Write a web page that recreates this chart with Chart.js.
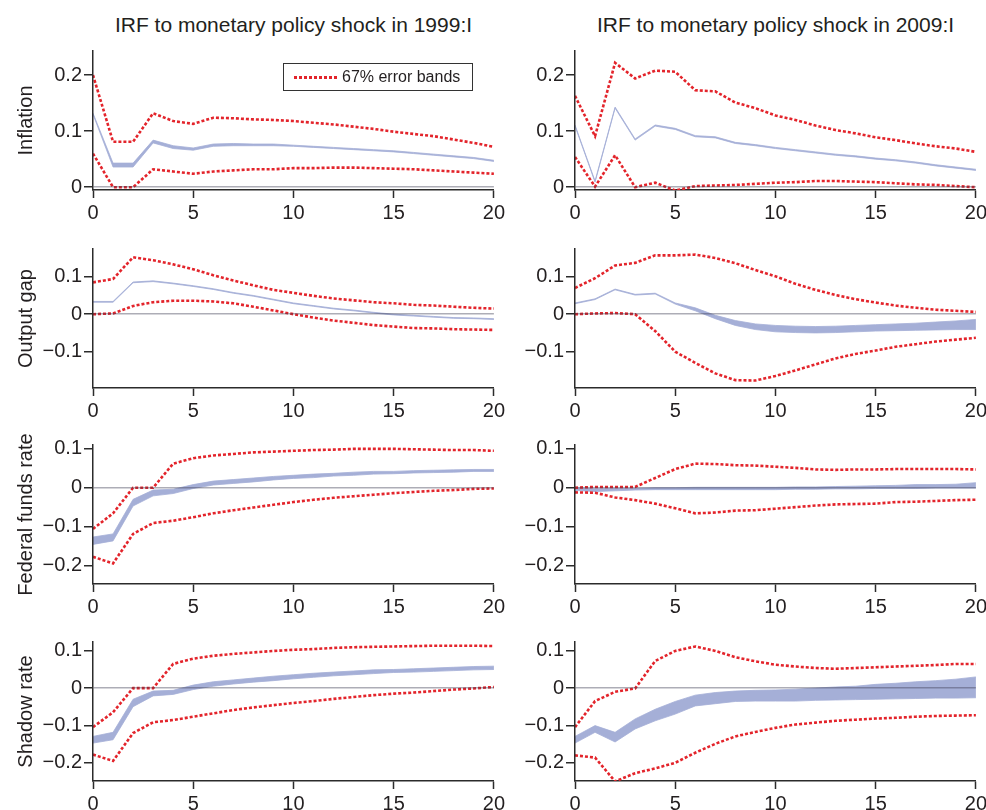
<!DOCTYPE html>
<html>
<head>
<meta charset="utf-8">
<script src="https://cdn.jsdelivr.net/npm/chart.js@4.4.1/dist/chart.umd.min.js"></script>
<style>
  body { margin: 0; width: 986px; height: 810px; overflow: hidden; background: #fff;
         font-family: "Liberation Sans", Arial, sans-serif; color: #231f20; }
  canvas { position: absolute; }
  .coltitle { position: absolute; top: 12px; width: 401px; text-align: center; font-size: 21px; line-height: 26px; }
  .legend { position: absolute; left: 283px; top: 63px; width: 188px; height: 26px; border: 1.5px solid #333;
            font-size: 16px; line-height: 26px; }
  .legend .dots { position: absolute; left: 10px; top: 12px; width: 43px; height: 2.6px;
                  background: repeating-linear-gradient(90deg, #e3242b 0 3px, transparent 3px 5px); }
  .legend .txt { position: absolute; left: 58px; top: 0; }
</style>
</head>
<body>
<div class="coltitle" style="left:93px">IRF to monetary policy shock in 1999:I</div>
<div class="coltitle" style="left:575px">IRF to monetary policy shock in 2009:I</div>

<canvas id="infl99" width="508" height="187" style="left:0;top:37px"></canvas>
<canvas id="infl09" width="508" height="187" style="left:482px;top:37px"></canvas>
<canvas id="gap99" width="508" height="187" style="left:0;top:235px"></canvas>
<canvas id="gap09" width="508" height="187" style="left:482px;top:235px"></canvas>
<canvas id="fed99" width="508" height="187" style="left:0;top:431px"></canvas>
<canvas id="fed09" width="508" height="187" style="left:482px;top:431px"></canvas>
<canvas id="sh99" width="508" height="187" style="left:0;top:628px"></canvas>
<canvas id="sh09" width="508" height="187" style="left:482px;top:628px"></canvas>

<div class="legend"><span class="dots"></span><span class="txt">67% error bands</span></div>

<script>
// horizons (quarters after the shock) and tick labels
const horizons = [0,1,2,3,4,5,6,7,8,9,10,11,12,13,14,15,16,17,18,19,20];
const horizonTicks = [0,5,10,15,20];
const inflTicks = [0, 0.1, 0.2];
const gapTicks = [-0.1, 0, 0.1];
const rateTicks = [-0.2, -0.1, 0, 0.1];

// Inflation, 1999:I
const infl99ErrHi = [0.200,0.081,0.081,0.132,0.118,0.113,0.124,0.123,0.121,0.120,0.118,0.115,0.112,0.108,0.104,0.099,0.095,0.091,0.085,0.079,0.072];
const infl99ErrLo = [0.060,0.000,0.000,0.032,0.028,0.024,0.028,0.030,0.032,0.032,0.034,0.034,0.035,0.035,0.034,0.033,0.032,0.030,0.028,0.026,0.024];
const infl99IrfLo = [0.130,0.036,0.036,0.079,0.069,0.066,0.073,0.074,0.074,0.074,0.073,0.071,0.069,0.067,0.065,0.063,0.060,0.057,0.054,0.051,0.046];
const infl99IrfHi = [0.132,0.043,0.043,0.084,0.074,0.070,0.077,0.078,0.077,0.077,0.075,0.073,0.071,0.069,0.067,0.065,0.062,0.059,0.056,0.053,0.048];

// Inflation, 2009:I
const infl09ErrHi = [0.163,0.091,0.222,0.194,0.208,0.206,0.173,0.171,0.151,0.141,0.128,0.120,0.110,0.102,0.096,0.089,0.084,0.078,0.073,0.069,0.063];
const infl09ErrLo = [0.054,0.001,0.057,0.000,0.008,-0.006,0.002,0.003,0.004,0.006,0.008,0.009,0.011,0.011,0.010,0.009,0.007,0.005,0.004,0.002,0.000];
const infl09IrfLo = [0.109,0.009,0.141,0.084,0.109,0.103,0.090,0.088,0.078,0.074,0.069,0.065,0.061,0.057,0.054,0.050,0.047,0.043,0.038,0.034,0.030];
const infl09IrfHi = [0.111,0.011,0.143,0.086,0.111,0.105,0.092,0.090,0.080,0.076,0.071,0.067,0.063,0.059,0.056,0.052,0.049,0.045,0.040,0.036,0.032];

// Output gap, 1999:I
const gap99ErrHi = [0.085,0.094,0.152,0.144,0.133,0.120,0.104,0.090,0.077,0.065,0.057,0.049,0.042,0.037,0.032,0.029,0.025,0.023,0.020,0.017,0.015];
const gap99ErrLo = [0.000,0.002,0.022,0.032,0.036,0.036,0.034,0.029,0.020,0.010,0.000,-0.009,-0.017,-0.023,-0.029,-0.033,-0.037,-0.038,-0.040,-0.041,-0.042];
const gap99IrfLo = [0.032,0.032,0.084,0.087,0.081,0.074,0.066,0.056,0.048,0.038,0.028,0.021,0.014,0.009,0.003,-0.002,-0.005,-0.008,-0.011,-0.012,-0.014];
const gap99IrfHi = [0.034,0.034,0.086,0.089,0.083,0.076,0.068,0.058,0.050,0.040,0.030,0.023,0.016,0.011,0.005,0.000,-0.003,-0.006,-0.009,-0.010,-0.012];

// Output gap, 2009:I
const gap09ErrHi = [0.070,0.096,0.130,0.137,0.157,0.157,0.159,0.150,0.136,0.118,0.101,0.081,0.065,0.051,0.040,0.031,0.023,0.017,0.012,0.009,0.006];
const gap09ErrLo = [0.000,0.002,0.003,0.000,-0.045,-0.100,-0.130,-0.158,-0.176,-0.177,-0.165,-0.150,-0.134,-0.118,-0.106,-0.097,-0.087,-0.080,-0.073,-0.068,-0.063];
const gap09IrfLo = [0.028,0.039,0.065,0.051,0.054,0.027,0.009,-0.012,-0.030,-0.041,-0.047,-0.049,-0.050,-0.049,-0.047,-0.045,-0.044,-0.043,-0.042,-0.041,-0.041];
const gap09IrfHi = [0.030,0.041,0.067,0.053,0.056,0.030,0.017,-0.003,-0.017,-0.026,-0.030,-0.032,-0.033,-0.032,-0.030,-0.028,-0.026,-0.024,-0.021,-0.018,-0.014];

// Federal funds rate, 1999:I
const fed99ErrHi = [-0.106,-0.066,0.000,0.000,0.062,0.076,0.083,0.087,0.091,0.093,0.095,0.097,0.098,0.100,0.100,0.100,0.099,0.098,0.097,0.097,0.095];
const fed99ErrLo = [-0.178,-0.195,-0.119,-0.091,-0.085,-0.076,-0.066,-0.058,-0.051,-0.044,-0.037,-0.031,-0.026,-0.022,-0.018,-0.014,-0.011,-0.008,-0.006,-0.003,-0.002];
const fed99IrfLo = [-0.146,-0.137,-0.047,-0.021,-0.015,-0.002,0.007,0.011,0.015,0.020,0.024,0.026,0.030,0.032,0.035,0.036,0.038,0.039,0.040,0.042,0.042];
const fed99IrfHi = [-0.127,-0.119,-0.030,-0.006,-0.004,0.008,0.017,0.021,0.025,0.029,0.032,0.035,0.037,0.040,0.042,0.042,0.044,0.045,0.046,0.047,0.047];

// Federal funds rate, 2009:I
const fed09ErrHi = [0.000,0.002,0.002,0.002,0.025,0.048,0.062,0.061,0.058,0.057,0.054,0.051,0.047,0.046,0.047,0.047,0.048,0.048,0.048,0.048,0.047];
const fed09ErrLo = [-0.012,-0.013,-0.025,-0.032,-0.041,-0.053,-0.066,-0.064,-0.059,-0.058,-0.054,-0.050,-0.046,-0.043,-0.042,-0.041,-0.037,-0.036,-0.034,-0.032,-0.031];
const fed09IrfLo = [-0.007,-0.010,-0.008,-0.006,-0.005,-0.005,-0.005,-0.005,-0.005,-0.005,-0.005,-0.004,-0.004,-0.003,-0.003,-0.002,-0.002,-0.002,-0.001,-0.001,-0.001];
const fed09IrfHi = [0.000,-0.003,-0.002,-0.002,0.000,0.000,0.001,0.001,0.001,0.001,0.001,0.002,0.002,0.003,0.004,0.005,0.006,0.008,0.008,0.009,0.013];

// Shadow rate, 1999:I
const sh99ErrHi = [-0.105,-0.065,0.000,0.000,0.065,0.079,0.087,0.092,0.096,0.100,0.103,0.105,0.108,0.110,0.111,0.112,0.113,0.114,0.114,0.114,0.113];
const sh99ErrLo = [-0.179,-0.196,-0.121,-0.092,-0.086,-0.077,-0.068,-0.059,-0.052,-0.046,-0.040,-0.035,-0.029,-0.024,-0.019,-0.015,-0.012,-0.008,-0.004,-0.001,0.003];
const sh99IrfLo = [-0.148,-0.139,-0.050,-0.021,-0.017,-0.004,0.005,0.011,0.016,0.020,0.025,0.029,0.033,0.036,0.039,0.042,0.043,0.045,0.047,0.049,0.050];
const sh99IrfHi = [-0.130,-0.119,-0.030,-0.008,-0.006,0.008,0.017,0.022,0.027,0.032,0.036,0.040,0.043,0.046,0.049,0.050,0.052,0.054,0.056,0.058,0.059];

// Shadow rate, 2009:I
const sh09ErrHi = [-0.105,-0.035,-0.010,-0.001,0.073,0.100,0.112,0.100,0.083,0.072,0.063,0.058,0.054,0.052,0.054,0.056,0.058,0.060,0.062,0.065,0.065];
const sh09ErrLo = [-0.181,-0.187,-0.251,-0.229,-0.216,-0.201,-0.174,-0.150,-0.130,-0.118,-0.107,-0.098,-0.093,-0.088,-0.085,-0.082,-0.080,-0.077,-0.075,-0.074,-0.073];
const sh09IrfLo = [-0.148,-0.119,-0.145,-0.110,-0.088,-0.070,-0.048,-0.042,-0.036,-0.035,-0.035,-0.035,-0.033,-0.032,-0.031,-0.030,-0.029,-0.028,-0.027,-0.027,-0.026];
const sh09IrfHi = [-0.130,-0.101,-0.119,-0.083,-0.057,-0.036,-0.019,-0.012,-0.008,-0.006,-0.005,-0.003,0.000,0.003,0.005,0.010,0.013,0.017,0.020,0.024,0.030];

const RED = '#e3242b';
const BAND = '#a5afd7';
const AXIS = '#2b2b2b';

Chart.defaults.font.family = '"Liberation Sans", Arial, sans-serif';
Chart.defaults.color = '#231f20';

const panels = [
  { id: 'infl99', label: 'Inflation', ticks: inflTicks, min: -0.005, max: 0.243, errHi: infl99ErrHi, errLo: infl99ErrLo, irfLo: infl99IrfLo, irfHi: infl99IrfHi },
  { id: 'infl09', label: '', ticks: inflTicks, min: -0.005, max: 0.243, errHi: infl09ErrHi, errLo: infl09ErrLo, irfLo: infl09IrfLo, irfHi: infl09IrfHi },
  { id: 'gap99', label: 'Output gap', ticks: gapTicks, min: -0.197, max: 0.174, errHi: gap99ErrHi, errLo: gap99ErrLo, irfLo: gap99IrfLo, irfHi: gap99IrfHi },
  { id: 'gap09', label: '', ticks: gapTicks, min: -0.197, max: 0.174, errHi: gap09ErrHi, errLo: gap09ErrLo, irfLo: gap09IrfLo, irfHi: gap09IrfHi },
  { id: 'fed99', label: 'Federal funds rate', ticks: rateTicks, min: -0.248, max: 0.11, errHi: fed99ErrHi, errLo: fed99ErrLo, irfLo: fed99IrfLo, irfHi: fed99IrfHi },
  { id: 'fed09', label: '', ticks: rateTicks, min: -0.248, max: 0.11, errHi: fed09ErrHi, errLo: fed09ErrLo, irfLo: fed09IrfLo, irfHi: fed09IrfHi },
  { id: 'sh99', label: 'Shadow rate', ticks: rateTicks, min: -0.25, max: 0.124, errHi: sh99ErrHi, errLo: sh99ErrLo, irfLo: sh99IrfLo, irfHi: sh99IrfHi },
  { id: 'sh09', label: '', ticks: rateTicks, min: -0.25, max: 0.124, errHi: sh09ErrHi, errLo: sh09ErrLo, irfLo: sh09IrfLo, irfHi: sh09IrfHi }
];

const pts = arr => arr.map((v, i) => ({ x: horizons[i], y: v }));
const fmt = v => v < 0 ? '\u2212' + Math.abs(v) : String(v);

function makePanel(p) {
  const errStyle = { borderColor: RED, borderWidth: 2.6, borderDash: [3, 2], pointRadius: 0, fill: false };
  const bandStyle = { borderColor: BAND, backgroundColor: BAND, borderWidth: 0.8, pointRadius: 0 };
  return new Chart(document.getElementById(p.id), {
    type: 'line',
    data: {
      datasets: [
        { label: '67% error bands', data: pts(p.errHi), ...errStyle },
        { label: 'lower error band', data: pts(p.errLo), ...errStyle },
        { label: 'IRF low', data: pts(p.irfLo), ...bandStyle, fill: false },
        { label: 'IRF high', data: pts(p.irfHi), ...bandStyle, fill: '-1' }
      ]
    },
    options: {
      responsive: false,
      animation: false,
      events: [],
      layout: { padding: { top: 12, right: 14, left: 0, bottom: 0 } },
      plugins: { legend: { display: false }, tooltip: { enabled: false } },
      scales: {
        x: {
          type: 'linear', min: 0, max: 20,
          afterBuildTicks: s => { s.ticks = horizonTicks.map(v => ({ value: v })); },
          afterFit: s => { s.height = 34; },
          grid: { drawOnChartArea: false, tickLength: 8, tickColor: AXIS, tickWidth: 1.5 },
          border: { color: AXIS, width: 1.5 },
          ticks: { font: { size: 20 }, padding: 3, maxRotation: 0 }
        },
        y: {
          min: p.min, max: p.max,
          afterBuildTicks: s => { s.ticks = p.ticks.map(v => ({ value: v })); },
          afterFit: s => { s.width = 93; },
          grid: {
            z: 1,
            color: c => c.tick && c.tick.value === 0 ? 'rgba(60,60,80,0.42)' : 'rgba(0,0,0,0)',
            lineWidth: 1.5, tickLength: 9, tickColor: AXIS, tickWidth: 1.5
          },
          border: { color: AXIS, width: 1.5, z: 1 },
          ticks: { font: { size: 20 }, padding: 2, callback: v => fmt(v) },
          title: { display: !!p.label, text: p.label, font: { size: 20 }, padding: { top: 14, bottom: 0 } }
        }
      }
    }
  });
}

panels.forEach(makePanel);
</script>
</body>
</html>
